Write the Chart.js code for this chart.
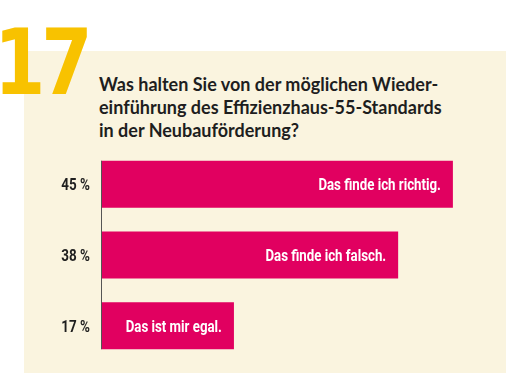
<!DOCTYPE html>
<html>
<head>
<meta charset="utf-8">
<script src="https://cdn.jsdelivr.net/npm/chart.js@4"></script>
<style>
  html, body { margin: 0; padding: 0; background: #fff; }
  body { width: 506px; height: 373px; position: relative; overflow: hidden; }
  .panel { position: absolute; left: 24px; top: 51px; width: 482px; height: 322px; background: #faf4df; }
  .num {
    position: absolute; left: -6px; top: 13px;
    font-family: "DejaVu Sans"; font-weight: bold; font-size: 90px; line-height: 100px;
    color: #f8c200; letter-spacing: -5px;
    transform: scaleX(0.82); transform-origin: left top;
  }
  .title {
    position: absolute; left: 99px; top: 73px;
    font-family: Lato; font-weight: bold; font-size: 18px; line-height: 23px;
    color: #1e1e1e;
  }
  #chart { position: absolute; left: 24px; top: 140px; }
</style>
</head>
<body>
<div class="panel"></div>
<div class="num">17</div>
<div class="title">Was halten Sie von der möglichen Wieder-<br>einführung des Effizienzhaus-55-Standards<br>in der Neubauförderung?</div>
<canvas id="chart" width="482" height="233"></canvas>
<script>
const answers = ["Das finde ich richtig.", "Das finde ich falsch.", "Das ist mir egal."];
const shares = [45, 38, 17];
const tickLabels = shares.map(v => v + " %");

// condensed look: draw text squeezed horizontally
function squeezed(ctx, text, x, y, font, color, sx) {
  ctx.save();
  ctx.translate(x, y);
  ctx.scale(sx, 1);
  ctx.font = font;
  ctx.fillStyle = color;
  ctx.textAlign = "right";
  ctx.textBaseline = "alphabetic";
  ctx.fillText(text, 0, 0);
  ctx.restore();
}

const barText = {
  id: "barText",
  afterDatasetsDraw(chart) {
    const ctx = chart.ctx;
    const meta = chart.getDatasetMeta(0);
    const yScale = chart.scales.y;
    meta.data.forEach((bar, i) => {
      squeezed(ctx, answers[i], bar.x - 12, bar.y + 6, "bold 17px Roboto", "#ffffff", 0.78);
      squeezed(ctx, tickLabels[i], yScale.right - 11, yScale.getPixelForValue(i) + 6,
        "bold 16px Roboto", "#1e1e1e", 0.84);
    });
    // axis line only along the bars
    const first = meta.data[0], last = meta.data[meta.data.length - 1];
    ctx.save();
    ctx.strokeStyle = "#555";
    ctx.lineWidth = 1;
    ctx.beginPath();
    ctx.moveTo(chart.chartArea.left + 0.5, first.y - first.height / 2);
    ctx.lineTo(chart.chartArea.left + 0.5, last.y + last.height / 2);
    ctx.stroke();
    ctx.restore();
  }
};

new Chart(document.getElementById("chart"), {
  type: "bar",
  data: {
    labels: tickLabels,
    datasets: [{
      data: shares,
      backgroundColor: "#e10060",
      barPercentage: 1,
      categoryPercentage: 0.665
    }]
  },
  options: {
    indexAxis: "y",
    responsive: false,
    animation: false,
    layout: { padding: { left: 0, right: 14, top: 9, bottom: 12 } },
    plugins: { legend: { display: false }, tooltip: { enabled: false } },
    scales: {
      x: { display: false, min: 0, max: 50 },
      y: {
        afterFit: scale => { scale.width = 77; },
        grid: { display: false },
        border: { display: false },
        ticks: { display: false }
      }
    }
  },
  plugins: [barText]
});
</script>
</body>
</html>
